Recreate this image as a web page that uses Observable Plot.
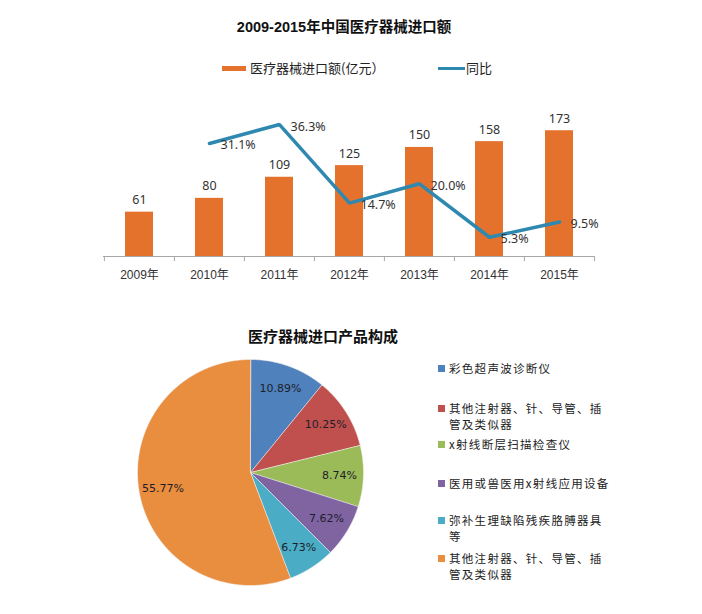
<!DOCTYPE html>
<html>
<head>
<meta charset="utf-8">
<script src="https://cdn.jsdelivr.net/npm/d3@7"></script>
<script src="https://cdn.jsdelivr.net/npm/@observablehq/plot@0.6"></script>
<style>
  html, body { margin: 0; padding: 0; background: #fff; }
  #root { position: relative; width: 702px; height: 614px; overflow: hidden; background: #fff;
          font-family: "Liberation Sans", "Noto Sans CJK SC", sans-serif; color: #333; }
  .abs { position: absolute; white-space: nowrap; }
  .title { font-weight: bold; color: #111; font-family: "Liberation Sans", "Noto Sans CJK SC", sans-serif; }
  .lg { font-size: 11.5px; letter-spacing: 1.3px; color: #222; font-family: "Noto Sans CJK SC", sans-serif; line-height: 16.8px; }
  .sw { position: absolute; width: 7px; height: 7px; }
</style>
</head>
<body>
<div id="root"></div>
<script>
// ---- data: top chart ----
const years = ["2009", "2010", "2011", "2012", "2013", "2014", "2015"];
const importValues = [61, 80, 109, 125, 150, 158, 173];          // 亿元
const growthYears = ["2010", "2011", "2012", "2013", "2014", "2015"];
const growthPct = [31.1, 36.3, 14.7, 20.0, 5.3, 9.5];            // %

// ---- data: pie ----
const sliceNames = ["彩色超声波诊断仪", "其他注射器、针、导管、插管及类似器", "x射线断层扫描检查仪",
                    "医用或兽医用x射线应用设备", "弥补生理缺陷残疾胳膊器具等", "其他注射器、针、导管、插管及类似器"];
const sliceLegendLines = [["彩色超声波诊断仪"], ["其他注射器、针、导管、插", "管及类似器"], ["x射线断层扫描检查仪"],
                          ["医用或兽医用x射线应用设备"], ["弥补生理缺陷残疾胳膊器具", "等"], ["其他注射器、针、导管、插", "管及类似器"]];
const slicePct = [10.89, 10.25, 8.74, 7.62, 6.73, 55.77];
const sliceColors = ["#4F81BD", "#C0504D", "#9BBB59", "#8064A2", "#4BACC6", "#E98D3E"];

const root = document.getElementById("root");
function addDiv(cls, css, html) {
  const d = document.createElement("div");
  d.className = cls;
  Object.assign(d.style, css);
  d.innerHTML = html;
  root.appendChild(d);
  return d;
}

// ---- titles & top legend ----
addDiv("abs title", {left: "0px", width: "688px", textAlign: "center", top: "15px", fontSize: "14.5px"}, "2009-2015年中国医疗器械进口额");
addDiv("abs", {left: "222px", top: "65.5px", width: "24px", height: "5px", background: "#E4722C"}, "");
addDiv("abs", {left: "250px", top: "59px", fontSize: "13px", color: "#222", fontFamily: "'Noto Sans CJK SC', sans-serif", lineHeight: "18px"}, "医疗器械进口额(亿元）");
addDiv("abs", {left: "438px", top: "66.5px", width: "27px", height: "3px", background: "#2F88B0"}, "");
addDiv("abs", {left: "466px", top: "59px", fontSize: "13px", color: "#222", fontFamily: "'Noto Sans CJK SC', sans-serif", lineHeight: "18px"}, "同比");

// ---- top chart ----
const bars = years.map((y, i) => ({year: y, value: importValues[i]}));
const growth = growthYears.map((y, i) => ({year: y, pct: growthPct[i]}));
const pctFactor = 5; // secondary axis 0–40% aligned to primary 0–200

const barChart = Plot.plot({
  width: 702, height: 190,
  marginLeft: 103, marginRight: 108, marginTop: 10.6, marginBottom: 34,
  style: {background: "transparent", overflow: "visible"},
  x: {domain: years, padding: 0, axis: null},
  y: {domain: [0, 200], axis: null},
  marks: [
    Plot.barY(bars, {x: "year", y: "value", fill: "#E4722C", insetLeft: 21, insetRight: 21}),
    Plot.ruleY([0], {stroke: "#a6a6a6", strokeWidth: 1}),
    Plot.ruleX(years, {x: d => d, y1: 0, y2: -7, dx: -35.1, stroke: "#a6a6a6"}),
    Plot.ruleX([years[years.length - 1]], {x: d => d, y1: 0, y2: -7, dx: 35.1, stroke: "#a6a6a6"}),
    Plot.text(years, {x: d => d, y: 0, dy: 18.5, text: d => d + "年", fontSize: 12, fill: "#333",
                      fontFamily: "'Liberation Sans', 'Noto Sans CJK SC', sans-serif"}),
    Plot.text(bars, {x: "year", y: "value", dy: -12, text: d => String(d.value), fontSize: 12.5, fill: "#333"}),
    Plot.line(growth, {x: "year", y: d => d.pct * pctFactor, stroke: "#2F88B0", strokeWidth: 3.5, strokeLinejoin: "miter"}),
    Plot.text(growth, {x: "year", y: d => d.pct * pctFactor, dx: 11, dy: 2, textAnchor: "start",
                       text: d => d.pct.toFixed(1) + "%", fontSize: 12.5, fill: "#333"})
  ]
});
barChart.style.position = "absolute";
barChart.style.left = "0px";
barChart.style.top = "100px";
root.appendChild(barChart);

// ---- pie title ----
addDiv("abs title", {left: "248px", top: "325px", fontSize: "15px"}, "医疗器械进口产品构成");

// ---- pie (slices built from percentages) ----
const R = 113;
const pts = [];
const labels = [];
let acc = 0;
slicePct.forEach((p, i) => {
  const a0 = acc / 100 * 2 * Math.PI;
  acc += p;
  const a1 = acc / 100 * 2 * Math.PI;
  pts.push({k: i, x: 0, y: 0, c: sliceColors[i]});
  const n = Math.max(2, Math.ceil((a1 - a0) / 0.01));
  for (let j = 0; j <= n; j++) {
    const a = a0 + (a1 - a0) * j / n;
    pts.push({k: i, x: R * Math.sin(a), y: R * Math.cos(a), c: sliceColors[i]});
  }
  const am = (a0 + a1) / 2;
  const rl = 89;
  labels.push({x: rl * Math.sin(am), y: rl * Math.cos(am), t: p.toFixed(2) + "%"});
});

const pie = Plot.plot({
  width: 240, height: 240, margin: 0,
  style: {background: "transparent", overflow: "visible"},
  x: {domain: [-120, 120], axis: null},
  y: {domain: [-120, 120], axis: null},
  color: {type: "identity"},
  marks: [
    Plot.line(pts, {x: "x", y: "y", z: "k", fill: "c", stroke: "#f4f4f4", strokeWidth: 0.7, strokeOpacity: 0.8,
                    curve: "linear-closed"}),
    Plot.text(labels, {x: "x", y: "y", text: "t", fontSize: 11, fill: "#1e1e2a",
                       fontFamily: "'DejaVu Sans', sans-serif"})
  ]
});
pie.style.position = "absolute";
pie.style.left = (249.5 - 120) + "px";
pie.style.top = (472 - 120) + "px";
root.appendChild(pie);

// ---- pie legend ----
const legendTops = [368, 408, 444, 483, 520, 558]; // centre of first line
sliceLegendLines.forEach((lines, i) => {
  const cy = legendTops[i];
  addDiv("sw", {left: "437.5px", top: (cy - 3.5) + "px", background: sliceColors[i]}, "");
  addDiv("abs lg", {left: "449px", top: (cy - 8.4) + "px"}, lines.join("<br>"));
});
</script>
</body>
</html>
